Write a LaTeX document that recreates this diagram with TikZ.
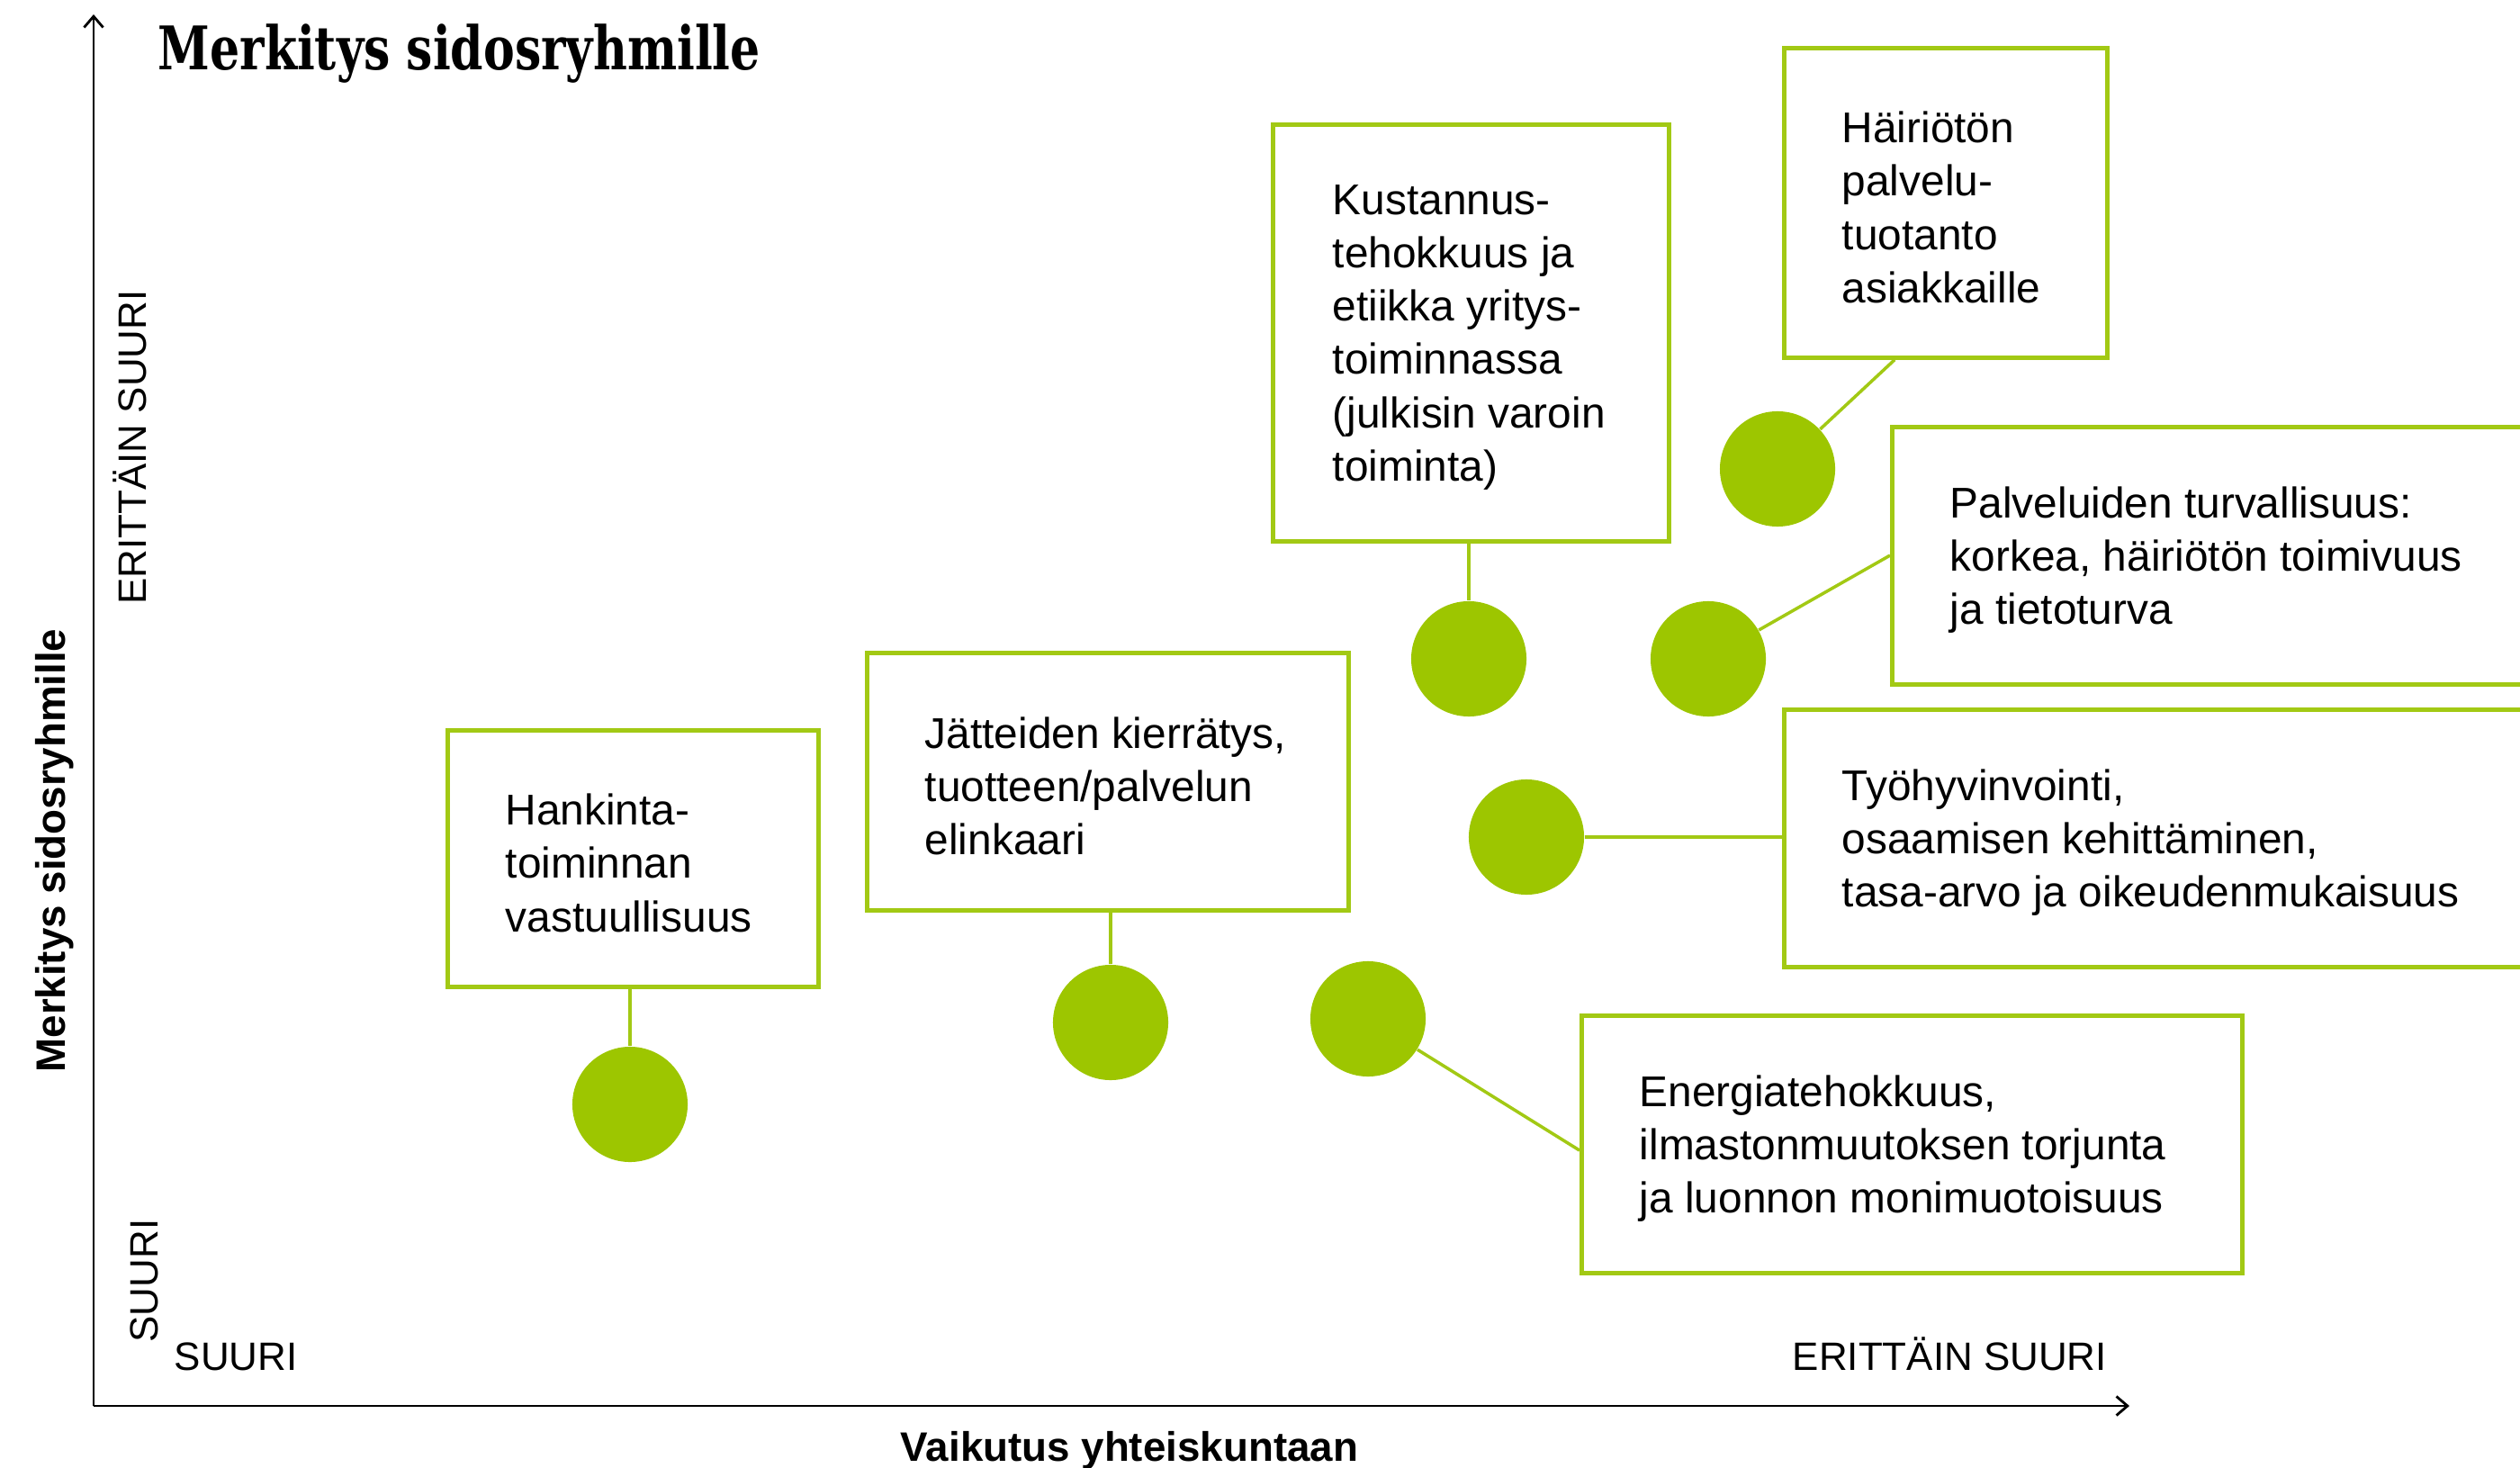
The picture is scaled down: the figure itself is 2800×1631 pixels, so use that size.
\documentclass[tikz,border=0pt]{standalone}
\usepackage{fontspec}
\setmainfont{Liberation Sans}
\newfontfamily\titlefont[FakeStretch=0.78]{DejaVu Serif}
\usetikzlibrary{arrows.meta,calc}
\definecolor{dotgreen}{HTML}{9DC600}
\definecolor{boxgreen}{HTML}{A2C914}
\tikzset{
  box/.style={draw=boxgreen, line width=1.3pt, rectangle, anchor=north west, inner sep=0pt},
  txt/.style={anchor=west, align=left, inner sep=0pt, yshift=-0.05cm, font=\fontsize{13.6pt}{16.8pt}\selectfont},
  dot/.style={circle, fill=dotgreen, minimum size=1.28cm, inner sep=0pt},
  link/.style={draw=boxgreen, line width=1pt},
  axis/.style={line width=0.8pt, -{Straight Barb[length=3.5pt,width=6pt]}},
  axlab/.style={inner sep=0pt, font=\bfseries\fontsize{13pt}{15pt}\selectfont},
  scale lab/.style={inner sep=0pt, font=\fontsize{12.5pt}{15pt}\selectfont}
}
\begin{document}
\begin{tikzpicture}[x=0.01cm,y=-0.01cm]
\useasboundingbox (0,0) rectangle (2800,1631);
\clip (0,0) rectangle (2800,1631);

% axes
\coordinate (origin) at (104,1562);
\coordinate (ytop) at (104,16);
\coordinate (xend) at (2366,1562);
\draw[axis] (origin) -- (ytop);
\draw[axis] (origin) -- (xend);

% title and axis labels
\node[anchor=base west, inner sep=0pt] (title) at (175,78) {\titlefont\bfseries\fontsize{19pt}{22pt}\selectfont Merkitys sidosryhmille};
\node[axlab, anchor=base, rotate=90] (ylab) at (72,945) {Merkitys sidosryhmille};
\node[axlab, anchor=base] (xlab) at (1255,1623) {Vaikutus yhteiskuntaan};
\node[scale lab, anchor=base, rotate=90] (yhigh) at (162,497) {ERITTÄIN SUURI};
\node[scale lab, anchor=base, rotate=90] (ylow) at (175,1423) {SUURI};
\node[scale lab, anchor=base west] (xlow) at (193,1522) {SUURI};
\node[scale lab, anchor=base west] (xhigh) at (1991,1522) {ERITTÄIN SUURI};

% boxes
\node[box, minimum width=4.12cm, minimum height=2.85cm] (b1) at (495,809) {};
\node[box, minimum width=5.35cm, minimum height=2.86cm] (b2) at (961,723) {};
\node[box, minimum width=4.40cm, minimum height=4.63cm] (b3) at (1412,136) {};
\node[box, minimum width=3.59cm, minimum height=3.44cm] (b4) at (1980,51) {};
\node[box, minimum width=8.00cm, minimum height=2.86cm] (b5) at (2100,472) {};
\node[box, minimum width=9.00cm, minimum height=2.86cm] (b6) at (1980,786) {};
\node[box, minimum width=7.34cm, minimum height=2.86cm] (b7) at (1755,1126) {};

% texts
\node[txt] (t1) at ([xshift=0.66cm]b1.west) {Hankinta-\\toiminnan\\vastuullisuus};
\node[txt] (t2) at ([xshift=0.66cm]b2.west) {Jätteiden kierrätys,\\tuotteen/palvelun\\elinkaari};
\node[txt] (t3) at ([xshift=0.68cm]b3.west) {Kustannus-\\tehokkuus ja\\etiikka yritys-\\toiminnassa\\(julkisin varoin\\toiminta)};
\node[txt] (t4) at ([xshift=0.66cm]b4.west) {Häiriötön\\palvelu-\\tuotanto\\asiakkaille};
\node[txt] (t5) at ([xshift=0.66cm]b5.west) {Palveluiden turvallisuus:\\korkea, häiriötön toimivuus\\ja tietoturva};
\node[txt] (t6) at ([xshift=0.66cm]b6.west) {Työhyvinvointi,\\osaamisen kehittäminen,\\tasa-arvo ja oikeudenmukaisuus};
\node[txt] (t7) at ([xshift=0.66cm]b7.west) {Energiatehokkuus,\\ilmastonmuutoksen torjunta\\ja luonnon monimuotoisuus};

% dots
\node[dot] (c1) at (700,1227) {};
\node[dot] (c2) at (1234,1136) {};
\node[dot] (c3) at (1520,1132) {};
\node[dot] (c4) at (1632,732) {};
\node[dot] (c5) at (1898,732) {};
\node[dot] (c6) at (1696,930) {};
\node[dot] (c7) at (1975,521) {};

% connectors
\coordinate (p4) at ([xshift=1.25cm]b4.south west);
\coordinate (p5) at ([yshift=-1.45cm]b5.north west);
\coordinate (p7) at ([yshift=-1.52cm]b7.north west);
\draw[link] (c1.north) -- (c1.north |- b1.south);
\draw[link] (c2.north) -- (c2.north |- b2.south);
\draw[link] (c4.north) -- (c4.north |- b3.south);
\draw[link] (c7) -- (p4);
\draw[link] (c5) -- (p5);
\draw[link] (c6) -- (c6 -| b6.west);
\draw[link] (c3) -- (p7);
\end{tikzpicture}
\end{document}
